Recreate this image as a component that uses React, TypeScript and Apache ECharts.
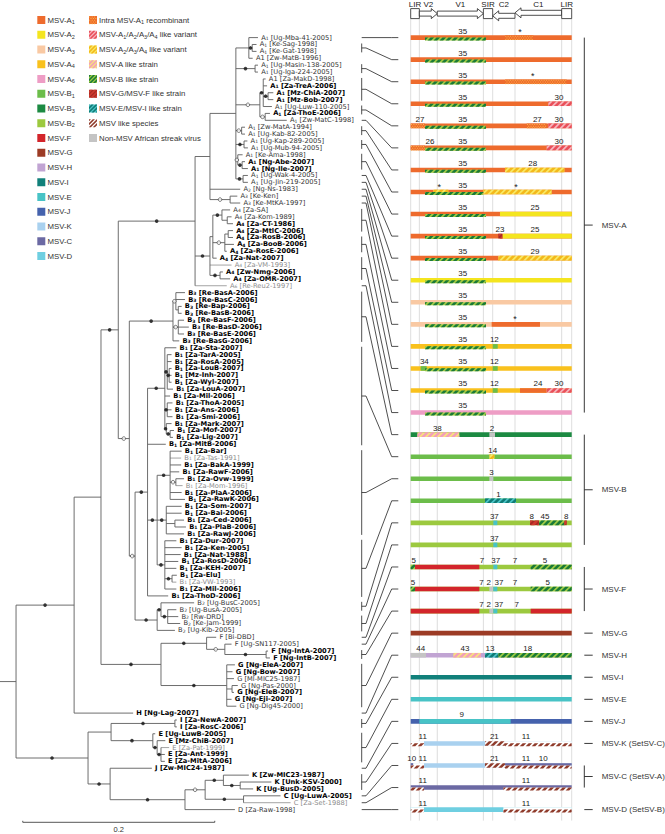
import React, { useEffect, useRef } from "react";
import * as echarts from "echarts";

const FONT = "'Liberation Sans', Arial, Helvetica, sans-serif";
const LEAF_FONT = "'DejaVu Sans', Verdana, sans-serif";

// ---------------- legend: subtypes ----------------
const subtypeKeys = ["A1", "A2", "A3", "A4", "A6", "B1", "B3", "B2", "F", "G", "H", "I", "E", "J", "K", "C", "D"];
const subtypeColors = ["#ee6b2d", "#f4e51f", "#f9c9a3", "#f9c11d", "#ee9dc5", "#6cbd4a", "#1c8a42", "#9cc93f", "#d3252b", "#9c3b25", "#c1a4d3", "#11807a", "#48c3c6", "#4562ad", "#a9d1ef", "#6b69a3", "#6fcfe1"];

// ---------------- legend: recombinant patterns ----------------
const patternKeys = ["intra", "A1234", "A234", "Alike", "Blike", "GF", "EI", "MSVlike", "nonMSV"];
const patternLabels = ["Intra MSV-A_1 recombinant", "MSV-A_1/A_2/A_3/A_4 like variant", "MSV-A_2/A_3/A_4 like variant", "MSV-A like strain", "MSV-B like strain", "MSV-G/MSV-F like strain", "MSV-E/MSV-I like strain", "MSV like species", "Non-MSV African streak virus"];
const patternKinds = ["dots", "stripe", "stripe", "stripe", "stripe", "stripe", "stripe", "stripe", "solid"];
const patternBg = ["#ee6b2d", "#f6b6be", "#f8ea66", "#f8e27c", "#a2cd45", "#a62b22", "#4cc5c8", "#ffffff", "#c4c4c4"];
const patternFg = ["#fbb848", "#e94f59", "#f3b81b", "#f29fba", "#1a7a37", "#cf3a2e", "#0f7b75", "#8f3b2b", "#c4c4c4"];

// ---------------- tree leaves (top to bottom) ----------------
const leafTypeRuns: [string, number][] = [["A_1", 3], ["A1", 1], ["A_1", 2], ["A1", 1], ["A_1", 15], ["A_2", 1], ["A_3", 2], ["A_4", 11], ["A_6", 1], ["B_3", 8], ["B_1", 37], ["B_2", 5], ["F", 4], ["G", 7], ["H", 1], ["I", 2], ["E", 5], ["J", 1], ["K", 3], ["C", 2], ["D", 1]];
const leafNames = [
  "Ug-Mba-41-2005", "Ke-Sag-1998", "Ke-Gat-1998", "Zw-MatB-1996", "Ug-Masin-138-2005", "Ug-Iga-224-2005", "Za-MakD-1998", "Za-TreA-2006", "Mz-ChiA-2007", "Mz-Bob-2007",
  "Ug-Luw-110-2005", "Za-ThoE-2006", "Zw-MatC-1998", "Zw-MatA-1994", "Ug-Kab-82-2005", "Ug-Kap-289-2005", "Ug-Mub-94-2005", "Ke-Ama-1998", "Ng-Abe-2007", "Ng-Ile-2007",
  "Ug-Wak-4-2005", "Ug-Jin-219-2005", "Ng-Ns-1983", "Ke-Ken", "Ke-MtKA-1997", "Za-SA", "Za-Kom-1989", "Za-CT-1986", "Za-MtlC-2006", "Za-RosB-2006",
  "Za-BooB-2006", "Za-RosE-2006", "Za-Nat-2007", "Za-VM-1993", "Zw-Nmg-2006", "Za-OMR-2007", "Re-Reu2-1997", "Re-BasA-2006", "Re-BasC-2006", "Re-Bap-2006",
  "Re-BasB-2006", "Re-BasF-2006", "Re-BasD-2006", "Re-BasE-2006", "Re-BasG-2006", "Za-Sta-2007", "Za-TarA-2005", "Za-RosA-2005", "Za-LouB-2007", "Mz-Inh-2007",
  "Za-Wyl-2007", "Za-LouA-2007", "Za-Mil-2006", "Za-ThoA-2005", "Za-Ans-2006", "Za-Smi-2006", "Za-Mark-2007", "Za-Mof-2007", "Za-Lig-2007", "Za-MitB-2006",
  "Za-Bar", "Za-Tas-1991", "Za-BakA-1999", "Za-RawF-2006", "Za-Ovw-1999", "Za-Mom-1996", "Za-PlaA-2006", "Za-RawK-2006", "Za-Som-2007", "Za-Bai-2006",
  "Za-Ced-2006", "Za-PlaB-2006", "Za-RawJ-2006", "Za-Dur-2007", "Za-Ken-2005", "Za-Nat-1988", "Za-RosD-2006", "Za-KEH-2007", "Za-Elu", "Za-VW-1993",
  "Za-Mil-2006", "Za-ThoD-2006", "Ug-BusC-2005", "Ug-BusA-2005", "Rw-DRD", "Ke-Jam-1999", "Ug-Kib-2005", "Bi-DBD", "Ug-SN117-2005", "Ng-IntA-2007",
  "Ng-IntB-2007", "Ng-EleA-2007", "Ng-Bow-2007", "Ml-MIC25-1987", "Ng-Pas-2000", "Ng-EleB-2007", "Ng-Eji-2007", "Ng-Dig45-2000", "Ng-Lag-2007", "Za-NewA-2007",
  "Za-RosC-2006", "Ug-LuwB-2005", "Mz-ChiB-2007", "Za-Pat-1999", "Za-Ant-1999", "Za-MitA-2006", "Zw-MIC24-1987", "Zw-MIC23-1987", "Unk-KSV-2000", "Ug-BusD-2005",
  "Ug-LuwA-2005", "Za-Set-1988", "Za-Raw-1998",
];
// r = regular, b = bold (new), g = grey
const leafStyles = "rrrrrrrbbb" + "rbrrrrrrbb" + "rrrrrrrbbb" + "bbbgbbgbbb" + "bbbbbbbbbb" + "bbbbbbbbbb" + "bgbbbgbbbb" + "bbbbbbbbbg" + "bbrrrrrrrb" + "bbbrrbbrbb" + "bbbgbbbbbb" + "bgr";

// ---------------- tree topology, node depths in 0.001 substitutions/site ----------------
const ROOT_STUB = 16.7;
const tA1a = "(1:252,(2:250.5,3:250.5):246*,4:246.5):242.5";
const tA1b = "(5:252,6:252):249*";
const tA1c = "((7:260,8:261.5,(9:268,10:268):262.5*,11:266.5):257.5*,(12:264.5,13:282):259.5o):254o";
const tA1d = "(14:238.5,15:238.5):235o";
const tA1e = "(16:241,17:241.5):237.5*";
const tA1f = "(18:236,(19:238.5,20:241.5):235.5*):231o";
const tA1g = "(21:241.5,22:241.5):236.5*";
const tA1 = `(${tA1a},${tA1b},${tA1c},${tA1d},${tA1e},${tA1f},${tA1g}):229`;
const tA3 = "(24:230.5,25:233.5):223o";
const tA12 = `(${tA1},23:233.5,${tA3}):202`;
const tA4b = "(26:223,(27:224.5,28:226):220):214.5*";
const tA4c = "((29:226,30:226):221,31:227,32:219.5):217.5o";
const tA4d = "(35:215.5,36:223):212.5*";
const tA4 = `((${tA4b},${tA4c},33:209):205,34:224.5,${tA4d}):202*`;
const tA = `(${tA12},${tA4},37:219.5):186.5*`;
const tB3 = "((38:176,39:176,(40:172.5,41:172.5):169):166.5o,(42:175,43:180,44:175):169o,45:170):163.5*";
const tB1top = "(46:167,(47:162,48:162,(49:162,50:162,51:162):159.5*,52:163.5):157.5*,53:160.5,(54:163,55:162,56:163):157.5*,(57:162,(58:164.5,59:163.5):160.5*):156.5*):155*";
const tB1bot = "((61:172.5,62:172,63:172,64:170,(65:175,66:173.5):166.5o,67:172.5,68:176):160.5*,(69:172.5,70:172.5,(71:175,72:177):165.5,73:175):156.5*,(74:167,75:172.5,76:171.5,77:169,78:167,(79:167.5,80:167):162.5*,81:167):155*):147*";
const tB1 = `(${tB1top},60:156,${tB1bot},82:158.5):137*`;
const tB2 = "((83:185.5,(84:167,85:169,86:171):158*):151*,87:165.5):147*";
const tB = `(${tB3},(${tB1},${tB2}):124o):118o`;
const tF = "(88:208.5,(89:224.5,(90:262.5,91:264.5):260.5*):217.5o):198.5*";
const tG = "(92:228,93:225.5,94:227,(95:231,96:227):225,97:224.5,98:229.5):219.5*";
const tU = `(((${tA},${tB}):106.5*,(${tF},${tG}):151*):88.5,99:122):60.5*`;
const tIE = "((100:167.5,101:167.5):165.5*,(102:145,(103:155.5,(104:159.5,105:155,106:155):151*):147*):142.5*):99";
const tKC = "((108:242.5,(109:266,110:247):233.5*):216*,(111:275.5,112:286):237*):197o";
const tL = `(${tIE},(107:141.5,(${tKC},113:228):176*):98*):75*`;
const TREE = `(${tU},${tL}):0`;

// ---------------- genome map ----------------
const genomeFeatures: [string, number, number, string][] = [
  ["LIR", 0, 145, "box"], ["V2", 145, 446, "r"], ["V1", 446, 1219, "r"], ["SIR", 1219, 1375, "box"],
  ["C2", 1375, 1749, "l"], ["C1", 1749, 2532, "l"], ["LIR", 2532, 2700, "box"],
];
const GENOME_LEN = 2700;
const barBase = ["A1", "A1", "A1", "A1", "A1", "A1", "A1", "A1", "A1", "A1", "A1", "A2", "A3", "A3", "A4", "A4", "A4", "A6", "B3", "B1", "B1", "B1", "B2", "B2", "B2", "B2", "B2", "G", "H", "I", "E", "J", "K", "K", "C", "D"];
// [bar, start nt, end nt, fill, band f=full / l=lower]
const barSegments: [number, number, number, string, string][] = [
  [0, 1581, 2057, "intra", "f"], [0, 240, 1263, "Blike", "l"],
  [1, 240, 1263, "Blike", "l"],
  [2, 1581, 2616, "intra", "f"], [2, 240, 1263, "Blike", "l"],
  [3, 2308, 2700, "A1234", "f"], [3, 240, 1263, "Blike", "l"],
  [4, 0, 240, "intra", "f"], [4, 1945, 2280, "intra", "f"], [4, 2308, 2700, "A1234", "f"], [4, 240, 1263, "Blike", "l"],
  [5, 0, 240, "intra", "f"], [5, 2280, 2700, "A1234", "f"], [5, 240, 1263, "Blike", "l"],
  [6, 1581, 2577, "A234", "f"], [6, 240, 1263, "Blike", "l"],
  [7, 380, 631, "A234", "f"], [7, 1218, 2364, "A234", "f"], [7, 240, 1218, "Blike", "l"],
  [8, 1497, 2700, "A2", "f"], [8, 240, 1263, "Blike", "l"],
  [9, 1470, 1542, "GF", "f"], [9, 1542, 2700, "A2", "f"], [9, 240, 1263, "Blike", "l"],
  [10, 1470, 2700, "A234", "f"], [10, 240, 1263, "Blike", "l"],
  [11, 240, 1263, "Blike", "l"],
  [12, 240, 1263, "Blike", "l"],
  [13, 1358, 2168, "A1", "f"], [13, 240, 1263, "Blike", "l"],
  [14, 1375, 1459, "B1", "f"], [14, 240, 1263, "Blike", "l"],
  [15, 167, 268, "B1", "f"], [15, 1375, 1459, "B1", "f"], [15, 240, 1263, "Blike", "l"],
  [16, 1375, 1459, "B1", "f"], [16, 1833, 2280, "A1", "f"], [16, 2280, 2700, "A1234", "f"], [16, 240, 1263, "Blike", "l"],
  [17, 240, 1263, "Blike", "l"],
  [18, 112, 815, "Alike", "f"], [18, 1319, 1414, "nonMSV", "f"],
  [19, 1319, 1403, "A234", "f"],
  [20, 1319, 1386, "nonMSV", "f"],
  [21, 1246, 1766, "EI", "f"],
  [22, 1386, 1453, "E", "f"], [22, 2001, 2152, "GF", "f"], [22, 2152, 2577, "Blike", "f"], [22, 2577, 2616, "GF", "f"],
  [23, 1386, 1453, "E", "f"],
  [24, 0, 72, "Blike", "f"], [24, 72, 1151, "F", "f"], [24, 1386, 1453, "E", "f"], [24, 2012, 2700, "Blike", "f"],
  [25, 0, 72, "Blike", "f"], [25, 72, 1151, "F", "f"], [25, 1319, 1386, "nonMSV", "f"], [25, 1386, 1453, "E", "f"], [25, 2012, 2700, "Blike", "f"],
  [26, 0, 1151, "F", "f"], [26, 1319, 1386, "nonMSV", "f"], [26, 1386, 1453, "E", "f"], [26, 2012, 2700, "F", "f"],
  [28, 0, 257, "nonMSV", "f"], [28, 715, 1179, "Alike", "f"], [28, 1246, 1470, "EI", "f"], [28, 1470, 2700, "Blike", "f"],
  [31, 145, 1676, "E", "f"],
  [32, 0, 223, "blank", "f"], [32, 0, 223, "MSVlike", "l"], [32, 1246, 1581, "MSVlike", "f"], [32, 1581, 2700, "blank", "f"], [32, 1581, 2700, "MSVlike", "l"],
  [33, 0, 44, "C", "f"], [33, 44, 223, "blank", "f"], [33, 0, 223, "MSVlike", "l"], [33, 1246, 1581, "MSVlike", "f"], [33, 1581, 2700, "C", "f"], [33, 1581, 2700, "MSVlike", "l"],
  [34, 0, 223, "MSVlike", "l"], [34, 1554, 2700, "MSVlike", "l"],
  [35, 0, 223, "blank", "f"], [35, 0, 223, "MSVlike", "l"], [35, 1554, 2700, "blank", "f"], [35, 1554, 2700, "MSVlike", "l"],
];
// [bar, position nt, text]
const barLabels: [number, number, string][] = [
  [0, 872, "35"], [0, 1833, "*"], [1, 872, "35"], [2, 872, "35"], [2, 2045, "*"],
  [3, 872, "35"], [3, 2487, "30"], [4, 156, "27"], [4, 872, "35"], [4, 2124, "27"], [4, 2487, "30"],
  [5, 324, "26"], [5, 872, "35"], [5, 2487, "30"], [6, 872, "35"], [6, 2045, "28"],
  [7, 480, "*"], [7, 872, "35"], [7, 1766, "*"], [8, 872, "35"], [8, 2085, "25"],
  [9, 872, "35"], [9, 1497, "23"], [9, 2085, "25"], [10, 872, "35"], [10, 2085, "29"],
  [11, 872, "35"], [12, 872, "35"], [13, 872, "35"], [13, 1749, "*"],
  [14, 872, "35"], [14, 1403, "12"], [15, 229, "34"], [15, 872, "35"], [15, 1403, "12"],
  [16, 872, "35"], [16, 1403, "12"], [16, 2135, "24"], [16, 2487, "30"], [17, 872, "35"],
  [18, 447, "38"], [18, 1364, "2"], [19, 1375, "14"], [20, 1353, "3"], [21, 1470, "1"],
  [22, 1403, "37"], [22, 2030, "8"], [22, 2252, "45"], [22, 2610, "8"], [23, 1403, "37"],
  [24, 50, "5"], [24, 1196, "7"], [24, 1425, "37"], [24, 1749, "7"], [24, 2252, "5"],
  [25, 39, "5"], [25, 1185, "7"], [25, 1310, "2"], [25, 1480, "37"], [25, 1749, "7"], [25, 2296, "5"],
  [26, 1185, "7"], [26, 1310, "2"], [26, 1478, "37"], [26, 1777, "7"],
  [28, 167, "44"], [28, 911, "43"], [28, 1330, "13"], [28, 1961, "18"], [31, 855, "9"],
  [32, 201, "11"], [32, 1403, "21"], [32, 1934, "11"],
  [33, 16, "10"], [33, 201, "11"], [33, 1403, "21"], [33, 1934, "11"], [33, 2224, "10"],
  [34, 201, "11"], [34, 1934, "11"], [35, 201, "11"], [35, 1934, "11"],
];
// leaves (1-based, first..last) represented by each bar
const barLeafGroups: [number, number][] = [
  [1, 1], [2, 3], [5, 6], [7, 10], [11, 12], [13, 13], [14, 15], [16, 17], [18, 20], [21, 21], [22, 22], [23, 23],
  [24, 24], [25, 25], [26, 29], [30, 32], [33, 36], [37, 37], [38, 45], [46, 60], [61, 73], [74, 82], [83, 84], [85, 87],
  [88, 88], [89, 89], [90, 91], [92, 98], [99, 99], [100, 101], [102, 106], [107, 107], [108, 110], [111, 111], [112, 112], [113, 113],
];
const speciesGroups: [string, number, number][] = [
  ["MSV-A", 0, 17], ["MSV-B", 18, 23], ["MSV-F", 24, 26], ["MSV-G", 27, 27], ["MSV-H", 28, 28], ["MSV-I", 29, 29],
  ["MSV-E", 30, 30], ["MSV-J", 31, 31], ["MSV-K (SetSV-C)", 32, 32], ["MSV-C (SetSV-A)", 33, 34], ["MSV-D (SetSV-B)", 35, 35],
];
const SCALE_BAR = 200; // 0.2 substitutions/site

// ---------------- helpers ----------------
const TOP = 37.6, SPAN = 772;

function clipHalf(poly: number[][], f: (p: number[]) => number): number[][] {
  const out: number[][] = [];
  for (let i = 0; i < poly.length; i++) {
    const a = poly[i], b = poly[(i + 1) % poly.length];
    const fa = f(a), fb = f(b);
    if (fa >= 0) out.push(a);
    if ((fa >= 0) !== (fb >= 0)) {
      const t = fa / (fa - fb);
      out.push([a[0] + (b[0] - a[0]) * t, a[1] + (b[1] - a[1]) * t]);
    }
  }
  return out;
}

function fillSpec(key: string) {
  const si = subtypeKeys.indexOf(key);
  if (si >= 0) return { kind: "solid", bg: subtypeColors[si], fg: subtypeColors[si] };
  const pi = patternKeys.indexOf(key);
  if (pi >= 0) return { kind: patternKinds[pi], bg: patternBg[pi], fg: patternFg[pi] };
  return { kind: "solid", bg: "#ffffff", fg: "#ffffff" };
}

function fillEls(x: number, y: number, w: number, h: number, key: string, period: number, sw: number): any[] {
  const spec = fillSpec(key);
  const els: any[] = [{ type: "rect", shape: { x, y, width: w, height: h }, style: { fill: spec.bg } }];
  if (spec.kind === "stripe") {
    const rect = [[x, y], [x + w, y], [x + w, y + h], [x, y + h]];
    const u0 = Math.floor((x + y) / period) * period - period;
    for (let c = u0; c < x + w + y + h; c += period) {
      let p = clipHalf(rect, (q) => q[0] + q[1] - c);
      p = clipHalf(p, (q) => c + sw - (q[0] + q[1]));
      if (p.length >= 3) els.push({ type: "polygon", shape: { points: p }, style: { fill: spec.fg } });
    }
  } else if (spec.kind === "dots") {
    let row = 0;
    for (let yy = y + 0.9; yy < y + h; yy += 1.7, row++) {
      for (let xx = x + 0.8 + (row % 2) * 1.2; xx < x + w; xx += 2.4) {
        els.push({ type: "rect", shape: { x: xx - 0.5, y: yy - 0.5, width: 1, height: 1 }, style: { fill: spec.fg } });
      }
    }
  }
  return els;
}

function rich(text: string, base: string): string {
  const parts = text.split(/_(\d)/);
  return parts.map((p, i) => (p === "" ? "" : i % 2 === 1 ? `{${base}s|${p}}` : `{${base}|${p}}`)).join("");
}

function richStyles(font: string, size: number, lh: number, subSize: number, subLh: number) {
  const mk = (fill: string, weight: string) => [
    { fontSize: size, fontFamily: font, fill, fontWeight: weight, lineHeight: lh },
    { fontSize: subSize, fontFamily: font, fill, fontWeight: weight, lineHeight: subLh, verticalAlign: "bottom" },
  ];
  const [r, rs] = mk("#333333", "normal");
  const [b, bs] = mk("#000000", "bold");
  const [g, gs] = mk("#8c8c8c", "normal");
  return { r, rs, b, bs, g, gs };
}

type TNode = { leaf?: number; d: number; mark?: string; kids: TNode[]; y: number };
function parseTree(s: string): TNode {
  let i = 0;
  const num = () => {
    const m = /^-?[0-9.]+/.exec(s.slice(i))!;
    i += m[0].length;
    return parseFloat(m[0]);
  };
  const node = (): TNode => {
    let n: TNode;
    if (s[i] === "(") {
      i++;
      const kids = [node()];
      while (s[i] === ",") { i++; kids.push(node()); }
      i++;
      n = { d: 0, kids, y: 0 };
    } else {
      n = { leaf: num(), d: 0, kids: [], y: 0 };
    }
    i++;
    n.d = num();
    if (s[i] === "*" || s[i] === "o") { n.mark = s[i]; i++; }
    return n;
  };
  return node();
}

function buildOption() {
  const leafTypes: string[] = [];
  leafTypeRuns.forEach(([t, n]) => { for (let k = 0; k < n; k++) leafTypes.push(t); });

  // tree layout
  const root = parseTree(TREE);
  const segs: number[][] = [];
  const segGrey: boolean[] = [];
  const marks: any[] = [];
  const leafPos: number[][] = [];
  const lay = (n: TNode, parentD: number | null) => {
    if (n.leaf !== undefined) {
      n.y = n.leaf - 1;
      leafPos.push([n.d, n.y, n.leaf - 1]);
    } else {
      n.kids.forEach((k) => lay(k, n.d));
      const a = n.kids[0].y, b = n.kids[n.kids.length - 1].y;
      n.y = (a + b) / 2;
      segs.push([n.d, a, n.d, b]); segGrey.push(false);
    }
    if (parentD !== null) {
      segs.push([parentD, n.y, n.d, n.y]);
      segGrey.push(n.leaf !== undefined && leafStyles[n.leaf - 1] === "g");
      if (n.mark) {
        marks.push({
          value: [(parentD + n.d) / 2, n.y],
          itemStyle: n.mark === "*" ? { color: "#111" } : { color: "#fff", borderColor: "#333", borderWidth: 0.8 },
        });
      }
    }
  };
  lay(root, null);
  segs.push([-ROOT_STUB, root.y, 0, root.y]); segGrey.push(false);

  const leafRich = richStyles(LEAF_FONT, 6.7, 6.7, 4.5, 4.3);
  const legendRich = richStyles(FONT, 7.8, 10, 5.5, 5.5);

  // legend graphic
  const legendEls: any[] = [];
  subtypeKeys.forEach((k, i) => {
    const yc = 20 + i * 14.75;
    legendEls.push(...fillEls(37.3, yc - 4, 8, 8, k, 4, 2.2));
    const lbl = k.length === 2 ? `MSV-${k[0]}_${k[1]}` : `MSV-${k}`;
    legendEls.push({ type: "text", x: 47.5, y: yc, style: { text: rich(lbl, "r"), rich: legendRich, verticalAlign: "middle", align: "left" } });
  });
  patternKeys.forEach((k, i) => {
    const yc = 20 + i * 14.75;
    legendEls.push(...fillEls(89, yc - 4, 8, 8, k, 4, 2.2));
    legendEls.push({ type: "text", x: 99, y: yc, style: { text: rich(patternLabels[i], "r"), rich: legendRich, verticalAlign: "middle", align: "left" } });
  });

  // bar draw list: base first then segments
  const barDraw: [number, number, number, string, string][] = [];
  barBase.forEach((b, k) => barDraw.push([k, 0, GENOME_LEN, b, "f"]));
  barSegments.forEach((s) => barDraw.push(s));

  const barToLeafUnits = (k: number) => (k * (leafNames.length - 1)) / (barBase.length - 1);

  const boundaries: number[] = [];
  genomeFeatures.forEach((f) => { if (!boundaries.includes(f[1])) boundaries.push(f[1]); if (!boundaries.includes(f[2])) boundaries.push(f[2]); });

  const txt = (x: number, y: number, text: string, size: number, align = "center", fill = "#222") => ({
    type: "text", x, y, style: { text, fontSize: size, fontFamily: FONT, fill, align, verticalAlign: "middle" },
  });

  return {
    animation: false,
    backgroundColor: "#ffffff",
    grid: [
      { left: 0, top: TOP, width: 665, height: SPAN },
      { left: 410.7, top: TOP, width: 161, height: SPAN },
    ],
    xAxis: [
      { gridIndex: 0, type: "value", min: -ROOT_STUB, max: 676, show: false },
      { gridIndex: 1, type: "value", min: 0, max: GENOME_LEN, show: false },
    ],
    yAxis: [
      { gridIndex: 0, type: "value", min: 0, max: leafNames.length - 1, inverse: true, show: false },
      { gridIndex: 1, type: "value", min: 0, max: barBase.length - 1, inverse: true, show: false },
    ],
    graphic: { elements: legendEls },
    series: [
      {
        type: "custom", name: "tree", xAxisIndex: 0, yAxisIndex: 0, silent: true, z: 2,
        data: segs, encode: { x: [0, 2], y: [1, 3] },
        renderItem: (params: any, api: any) => {
          const a = api.coord([api.value(0), api.value(1)]);
          const b = api.coord([api.value(2), api.value(3)]);
          return {
            type: "line", shape: { x1: a[0], y1: a[1], x2: b[0], y2: b[1] },
            style: { stroke: segGrey[params.dataIndex] ? "#9a9a9a" : "#5e5e5e", lineWidth: 0.9 },
          };
        },
      },
      {
        type: "scatter", name: "support", xAxisIndex: 0, yAxisIndex: 0, silent: true, z: 3,
        symbol: "circle", symbolSize: 3.6, data: marks,
      },
      {
        type: "custom", name: "leaves", xAxisIndex: 0, yAxisIndex: 0, silent: true, z: 3,
        data: leafPos,
        renderItem: (params: any, api: any) => {
          const p = api.coord([api.value(0), api.value(1)]);
          const li = leafPos[params.dataIndex][2];
          const st = leafStyles[li];
          return {
            type: "text", x: p[0] + 3.2, y: p[1],
            style: { text: rich(`${leafTypes[li]} [${leafNames[li]}]`, st), rich: leafRich, verticalAlign: "middle", align: "left" },
          };
        },
      },
      {
        type: "custom", name: "connectors", xAxisIndex: 0, yAxisIndex: 0, silent: true, z: 2,
        data: barLeafGroups.map((g, k) => [g[0] - 1, g[1] - 1, k]),
        encode: { x: 2, y: [0, 1] },
        renderItem: (params: any, api: any) => {
          const y1 = api.coord([0, api.value(0)])[1];
          const y2 = api.coord([0, api.value(1)])[1];
          const yb = api.coord([0, barToLeafUnits(api.value(2))])[1];
          const ym = (y1 + y2) / 2;
          const children: any[] = [];
          const st = { stroke: "#222", lineWidth: 0.8, fill: null };
          if (y2 - y1 > 0.5) children.push({ type: "line", shape: { x1: 361.7, y1: y1 - 1, x2: 361.7, y2: y2 + 1 }, style: st });
          children.push({ type: "polyline", shape: { points: [[361.7, ym], [366, ym], [391.7, yb], [398.3, yb]] }, style: st });
          return { type: "group", children };
        },
      },
      {
        type: "custom", name: "scalebar", xAxisIndex: 0, yAxisIndex: 0, silent: true,
        data: [[7, 7 + SCALE_BAR]], encode: { x: [0, 1] },
        renderItem: (params: any, api: any) => {
          const a = api.coord([api.value(0), leafNames.length - 1]);
          const b = api.coord([api.value(1), leafNames.length - 1]);
          const y = a[1] + 12.7;
          const st = { stroke: "#444", lineWidth: 0.9 };
          return {
            type: "group", children: [
              { type: "line", shape: { x1: a[0], y1: y, x2: b[0], y2: y }, style: st },
              { type: "line", shape: { x1: a[0], y1: y - 1.5, x2: a[0], y2: y }, style: st },
              { type: "line", shape: { x1: b[0], y1: y - 1.5, x2: b[0], y2: y }, style: st },
              txt((a[0] + b[0]) / 2, y + 7.5, (SCALE_BAR / 1000).toString(), 7.5, "center", "#333"),
            ],
          };
        },
      },
      {
        type: "custom", name: "gridlines", xAxisIndex: 1, yAxisIndex: 1, silent: true, z: 1,
        data: boundaries.map((b) => [b, 0]),
        renderItem: (params: any, api: any) => {
          const a = api.coord([api.value(0), 0]);
          const b = api.coord([api.value(0), barBase.length - 1]);
          return { type: "line", shape: { x1: a[0], y1: a[1] - 19, x2: a[0], y2: b[1] + 11 }, style: { stroke: "#d4d4d4", lineWidth: 0.8 } };
        },
      },
      {
        type: "custom", name: "genome", xAxisIndex: 1, yAxisIndex: 1, silent: true, z: 3,
        data: genomeFeatures.map((f) => [f[1], f[2]]), encode: { x: [0, 1] },
        renderItem: (params: any, api: any) => {
          const f = genomeFeatures[params.dataIndex];
          const xs = api.coord([api.value(0), 0])[0];
          const xe = api.coord([api.value(1), 0])[0];
          const base = api.coord([0, 0])[1] - 24;
          const st = { fill: "#fff", stroke: "#222", lineWidth: 0.8 };
          const children: any[] = [];
          if (f[3] === "box") {
            children.push({ type: "rect", shape: { x: xs, y: base - 5, width: xe - xs, height: 10 }, style: st });
          } else if (f[3] === "r") {
            const c = base;
            children.push({ type: "polygon", shape: { points: [[xs, c - 2.5], [xe - 6, c - 2.5], [xe - 6, c - 5], [xe, c], [xe - 6, c + 5], [xe - 6, c + 2.5], [xs, c + 2.5]] }, style: st });
          } else {
            const c = f[0] === "C2" ? base + 2.2 : base - 0.8;
            children.push({ type: "polygon", shape: { points: [[xe, c - 2.5], [xs + 6, c - 2.5], [xs + 6, c - 5], [xs, c], [xs + 6, c + 5], [xs + 6, c + 2.5], [xe, c + 2.5]] }, style: st });
          }
          children.push(txt((xs + xe) / 2, base - 9.5, f[0], 8));
          return { type: "group", children };
        },
      },
      {
        type: "custom", name: "bars", xAxisIndex: 1, yAxisIndex: 1, silent: true, z: 4,
        data: barDraw.map((s) => [s[1], s[2], s[0]]), encode: { x: [0, 1], y: 2 },
        renderItem: (params: any, api: any) => {
          const s = barDraw[params.dataIndex];
          const a = api.coord([api.value(0), api.value(2)]);
          const b = api.coord([api.value(1), api.value(2)]);
          const y0 = s[4] === "f" ? a[1] - 2.3 : a[1] - 0.1;
          const h = s[4] === "f" ? 4.6 : 3;
          return { type: "group", children: fillEls(a[0], y0, b[0] - a[0], h, s[3], 6, 3.6) };
        },
      },
      {
        type: "custom", name: "barLabels", xAxisIndex: 1, yAxisIndex: 1, silent: true, z: 5,
        data: barLabels.map((l) => [l[1], l[0]]),
        renderItem: (params: any, api: any) => {
          const p = api.coord([api.value(0), api.value(1)]);
          const t = barLabels[params.dataIndex][2];
          return txt(p[0], p[1] - (t === "*" ? 5.5 : 6.6), t, t === "*" ? 9 : 8);
        },
      },
      {
        type: "custom", name: "species", xAxisIndex: 1, yAxisIndex: 1, silent: true, z: 3,
        data: speciesGroups.map((g) => [GENOME_LEN, g[1], g[2]]), encode: { x: 0, y: [1, 2] },
        renderItem: (params: any, api: any) => {
          const g = speciesGroups[params.dataIndex];
          const a = api.coord([api.value(0), api.value(1)]);
          const b = api.coord([api.value(0), api.value(2)]);
          const xv = a[0] + 12.6;
          const ym = (a[1] + b[1]) / 2;
          const st = { stroke: "#222", lineWidth: 0.9 };
          const children: any[] = [];
          if (b[1] - a[1] > 1) children.push({ type: "line", shape: { x1: xv, y1: a[1], x2: xv, y2: b[1] }, style: st });
          children.push({ type: "line", shape: { x1: xv, y1: ym, x2: xv + 8.4, y2: ym }, style: st });
          children.push(txt(xv + 17.4, ym, g[0], 8, "left", "#333"));
          return { type: "group", children };
        },
      },
    ],
  };
}

export default function App() {
  const ref = useRef<HTMLDivElement>(null);
  useEffect(() => {
    const chart = echarts.init(ref.current!, undefined, { renderer: "svg", width: 665, height: 834 });
    chart.setOption(buildOption() as any);
    return () => chart.dispose();
  }, []);
  return <div ref={ref} style={{ position: "absolute", left: 0, top: 0, width: 665, height: 834, background: "#fff" }} />;
}
